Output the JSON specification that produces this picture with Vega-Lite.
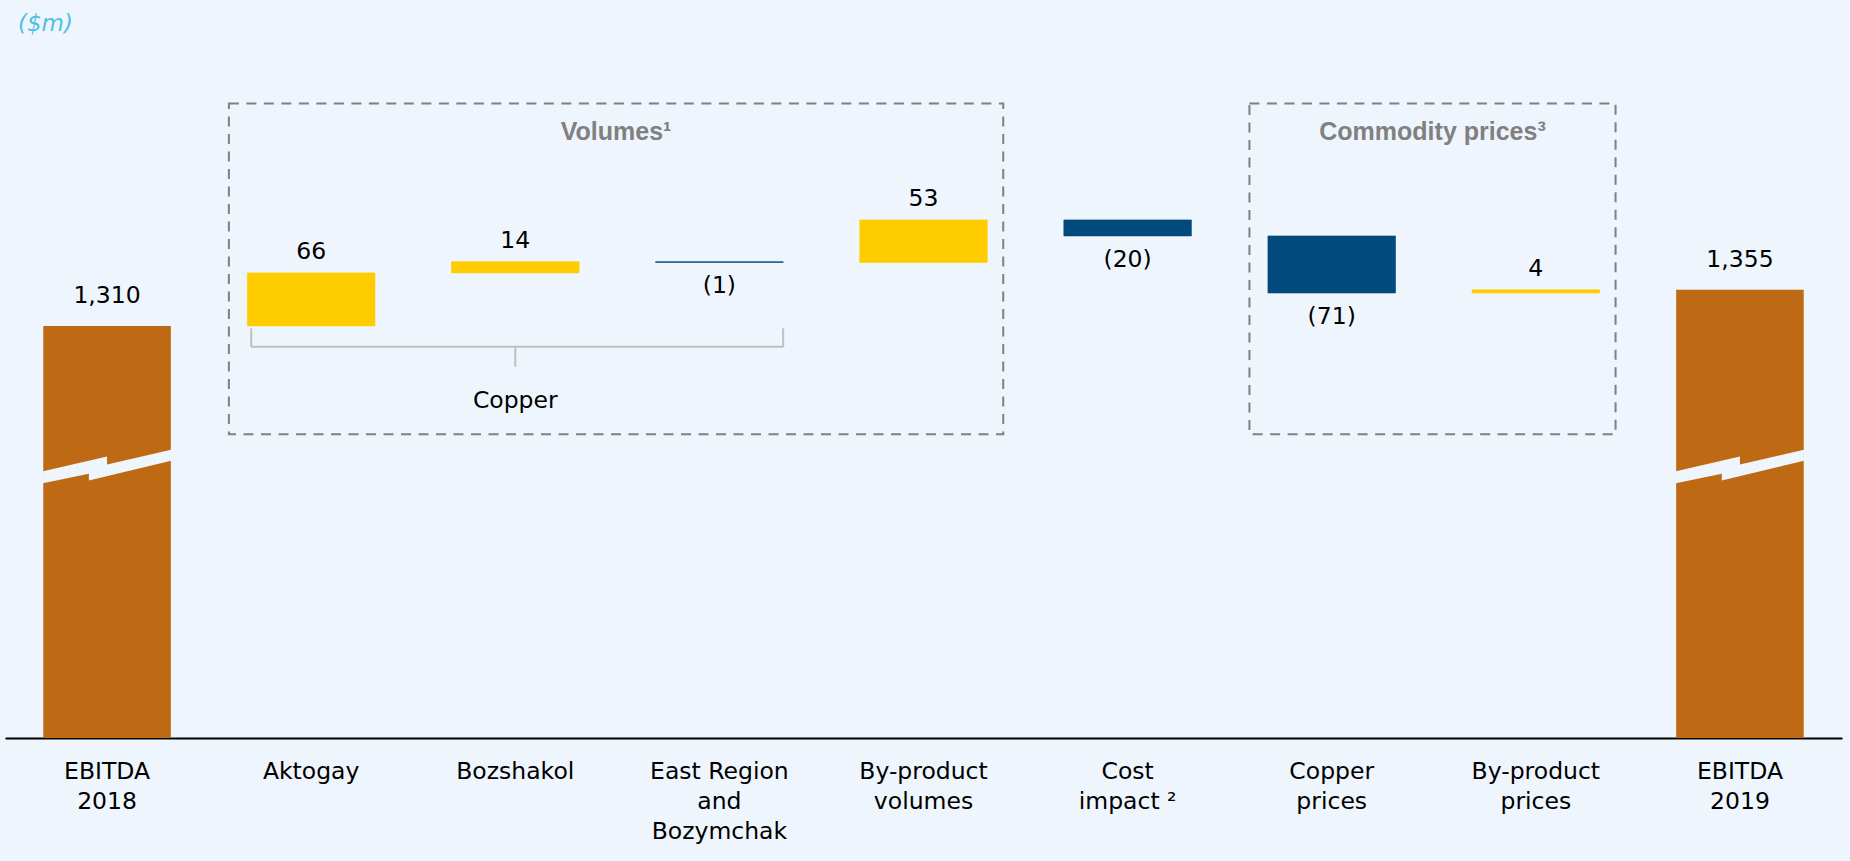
{
  "$schema": "https://vega.github.io/schema/vega-lite/v6.json",
  "width": 1837,
  "height": 735,
  "autosize": {"type": "none"},
  "padding": {"left": 5, "top": 3, "right": 8, "bottom": 123},
  "background": "#EEF5FC",
  "view": {"stroke": null},
  "title": {
    "text": "($m)",
    "anchor": "start",
    "frame": "group",
    "orient": "top",
    "offset": -20,
    "baseline": "alphabetic",
    "dx": 13,
    "dy": 31,
    "font": "DejaVu Sans",
    "fontStyle": "italic",
    "fontWeight": "normal",
    "fontSize": 23,
    "color": "#4DC2E6"
  },
  "datasets": {
    "bridge": [
      {"step": "EBITDA\n2018", "kind": "total", "amount": 1310, "start": null, "end": 1310},
      {"step": "Aktogay", "kind": "up", "amount": 66, "start": 1310, "end": 1376},
      {"step": "Bozshakol", "kind": "up", "amount": 14, "start": 1376, "end": 1390},
      {"step": "East Region\nand\nBozymchak", "kind": "down", "amount": -1, "start": 1390, "end": 1389},
      {"step": "By-product\nvolumes", "kind": "up", "amount": 53, "start": 1389, "end": 1442},
      {"step": "Cost\nimpact ²", "kind": "down", "amount": -20, "start": 1442, "end": 1422},
      {"step": "Copper\nprices", "kind": "down", "amount": -71, "start": 1422, "end": 1351},
      {"step": "By-product\nprices", "kind": "up", "amount": 4, "start": 1351, "end": 1355},
      {"step": "EBITDA\n2019", "kind": "total", "amount": 1355, "start": null, "end": 1355}
    ],
    "groups": [
      {"name": "Volumes¹", "first": "Aktogay", "last": "By-product\nvolumes", "titleAt": "East Region\nand\nBozymchak"},
      {"name": "Commodity prices³", "first": "Copper\nprices", "last": "By-product\nprices", "titleAt": "By-product\nprices"}
    ],
    "brace": [
      {"label": "Copper", "from": "Aktogay", "to": "East Region\nand\nBozymchak", "mid": "Bozshakol"}
    ]
  },
  "data": {"name": "bridge"},
  "layer": [
    {
      "transform": [{"filter": "datum.kind !== 'total'"}],
      "mark": {"type": "bar", "strokeWidth": 0.6},
      "encoding": {
        "x": {
          "field": "step",
          "type": "nominal",
          "title": null,
          "scale": {
            "domain": ["EBITDA\n2018", "Aktogay", "Bozshakol", "East Region\nand\nBozymchak", "By-product\nvolumes", "Cost\nimpact ²", "Copper\nprices", "By-product\nprices", "EBITDA\n2019"],
            "paddingInner": 0.375,
            "paddingOuter": 0.1875
          }
        },
        "y": {"field": "start", "type": "quantitative", "title": null, "scale": {"domain": [797, 1712], "zero": false, "nice": false}},
        "y2": {"field": "end"},
        "color": {"field": "kind", "type": "nominal", "scale": {"domain": ["total", "up", "down"], "range": ["#BE6A14", "#FFCC00", "#004A7C"]}, "legend": null},
        "stroke": {"field": "kind", "type": "nominal", "scale": {"domain": ["total", "up", "down"], "range": ["#BE6A14", "#FFCC00", "#004A7C"]}, "legend": null}
      }
    },
    {
      "transform": [{"filter": "datum.kind === 'total'"}],
      "mark": {"type": "bar"},
      "encoding": {
        "x": {"field": "step", "type": "nominal", "title": null},
        "y": {"field": "end", "type": "quantitative", "title": null, "stack": null},
        "color": {"field": "kind", "type": "nominal", "legend": null}
      }
    },
    {
      "transform": [{"filter": "datum.kind === 'total'"}],
      "mark": {
        "type": "point",
        "shape": "M -1 0.073 L 0 -0.156 L 0 -0.031 L 1 -0.261 L 1 -0.089 L -0.284 0.219 L -0.284 0.114 L -1 0.261 Z",
        "size": 16384,
        "filled": true,
        "fill": "#EEF5FC",
        "opacity": 1,
        "strokeWidth": 0
      },
      "encoding": {
        "x": {"field": "step", "type": "nominal", "title": null},
        "y": {"datum": 1135, "type": "quantitative", "title": null}
      }
    },
    {
      "transform": [{"filter": "datum.kind === 'up'"}],
      "mark": {"type": "text", "font": "DejaVu Sans", "fontSize": 23.5, "color": "#000000", "align": "center", "baseline": "alphabetic", "dy": -14},
      "encoding": {
        "x": {"field": "step", "type": "nominal", "title": null},
        "y": {"field": "end", "type": "quantitative", "title": null},
        "text": {"field": "amount", "type": "quantitative", "format": "(,"}
      }
    },
    {
      "transform": [{"filter": "datum.kind === 'down'"}],
      "mark": {"type": "text", "font": "DejaVu Sans", "fontSize": 23.5, "color": "#000000", "align": "center", "baseline": "top", "dy": 12},
      "encoding": {
        "x": {"field": "step", "type": "nominal", "title": null},
        "y": {"field": "end", "type": "quantitative", "title": null},
        "text": {"field": "amount", "type": "quantitative", "format": "(,"}
      }
    },
    {
      "transform": [{"filter": "datum.kind === 'total'"}],
      "mark": {"type": "text", "font": "DejaVu Sans", "fontSize": 23.5, "color": "#000000", "align": "center", "baseline": "alphabetic", "dy": -23},
      "encoding": {
        "x": {"field": "step", "type": "nominal", "title": null},
        "y": {"field": "end", "type": "quantitative", "title": null},
        "text": {"field": "amount", "type": "quantitative", "format": "(,"}
      }
    },
    {
      "data": {"name": "groups"},
      "mark": {"type": "rect", "fill": "white", "fillOpacity": 0, "stroke": "#808080", "strokeWidth": 2, "strokeDash": [10, 7.5]},
      "encoding": {
        "x": {"field": "first", "type": "nominal", "bandPosition": -0.145, "title": null},
        "x2": {"field": "last", "bandPosition": 1.125},
        "y": {"datum": 1587, "type": "quantitative", "title": null},
        "y2": {"datum": 1175}
      }
    },
    {
      "data": {"name": "groups"},
      "mark": {"type": "text", "font": "Liberation Sans", "fontWeight": "bold", "fontSize": 25, "color": "#808080", "align": "center", "baseline": "alphabetic"},
      "encoding": {
        "x": {"field": "titleAt", "type": "nominal", "bandPosition": -0.31, "title": null},
        "y": {"datum": 1542, "type": "quantitative", "title": null},
        "text": {"field": "name"}
      }
    },
    {
      "data": {"name": "brace"},
      "mark": {"type": "rule", "color": "#BFBFBF", "strokeWidth": 2},
      "encoding": {
        "x": {"field": "from", "type": "nominal", "bandPosition": 0.03, "title": null},
        "x2": {"field": "to", "bandPosition": 1.0},
        "y": {"datum": 1284, "type": "quantitative", "title": null}
      }
    },
    {
      "data": {"name": "brace"},
      "mark": {"type": "rule", "color": "#BFBFBF", "strokeWidth": 2},
      "encoding": {
        "x": {"field": "from", "type": "nominal", "bandPosition": 0.03, "title": null},
        "y": {"datum": 1284, "type": "quantitative", "title": null},
        "y2": {"datum": 1307}
      }
    },
    {
      "data": {"name": "brace"},
      "mark": {"type": "rule", "color": "#BFBFBF", "strokeWidth": 2},
      "encoding": {
        "x": {"field": "to", "type": "nominal", "bandPosition": 1.0, "title": null},
        "y": {"datum": 1284, "type": "quantitative", "title": null},
        "y2": {"datum": 1307}
      }
    },
    {
      "data": {"name": "brace"},
      "mark": {"type": "rule", "color": "#BFBFBF", "strokeWidth": 2},
      "encoding": {
        "x": {"field": "mid", "type": "nominal", "title": null},
        "y": {"datum": 1284, "type": "quantitative", "title": null},
        "y2": {"datum": 1259}
      }
    },
    {
      "data": {"name": "brace"},
      "mark": {"type": "text", "font": "DejaVu Sans", "fontSize": 23.5, "color": "#000000", "align": "center", "baseline": "alphabetic"},
      "encoding": {
        "x": {"field": "mid", "type": "nominal", "title": null},
        "y": {"datum": 1207.5, "type": "quantitative", "title": null},
        "text": {"field": "label"}
      }
    }
  ],
  "config": {
    "axisY": {"disable": true},
    "axisX": {
      "labelAngle": 0,
      "ticks": false,
      "grid": false,
      "domainColor": "#000000",
      "domainWidth": 2,
      "labelFont": "DejaVu Sans",
      "labelFontSize": 23.5,
      "labelColor": "#000000",
      "labelLineHeight": 30,
      "labelPadding": 21,
      "labelBaseline": "top",
      "labelLimit": 0,
      "labelOverlap": false,
      "labelExpr": "split(datum.label, '\\n')"
    }
  }
}
